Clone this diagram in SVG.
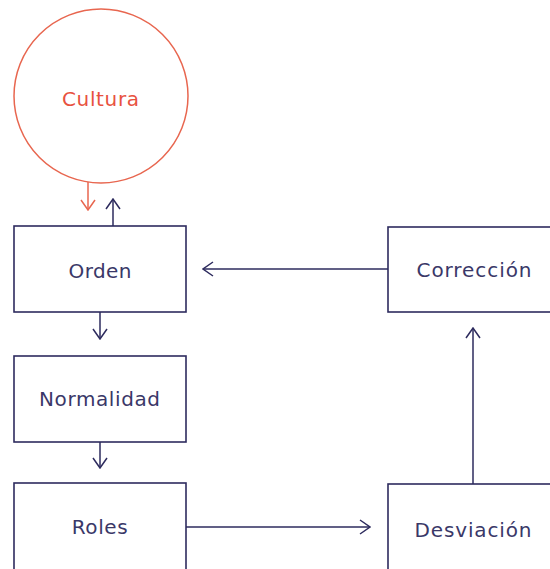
<svg xmlns="http://www.w3.org/2000/svg" width="550" height="569" viewBox="0 0 550 569">
<style>
.box{fill:#ffffff;stroke:#2d2b5e;stroke-width:1.6}
.lbl{font-family:"DejaVu Sans","Liberation Sans",sans-serif;font-size:20px;fill:#3a3868;text-anchor:middle}
.red{fill:#e8523f}
.con{fill:none;stroke:#2d2b5e;stroke-width:1.5}
.conr{fill:none;stroke:#e8664f;stroke-width:1.5}
</style>
<defs>
<marker id="ah" viewBox="-1 -1 12 16" refX="10" refY="7" markerWidth="12" markerHeight="16" markerUnits="userSpaceOnUse" orient="auto">
<path d="M0,0 L10,7 L0,14" fill="none" stroke="#2d2b5e" stroke-width="1.5"/>
</marker>
<marker id="ahr" viewBox="-1 -1 12 16" refX="10" refY="7" markerWidth="12" markerHeight="16" markerUnits="userSpaceOnUse" orient="auto">
<path d="M0,0 L10,7 L0,14" fill="none" stroke="#e8664f" stroke-width="1.5"/>
</marker>
</defs>
<rect width="550" height="569" fill="#ffffff"/>
<g id="cultura">
<circle cx="101" cy="96" r="87" fill="none" stroke="#e8664f" stroke-width="1.5"/>
<text class="lbl red" x="100.5" y="106" textLength="77" lengthAdjust="spacing">Cultura</text>
</g>
<g id="orden">
<rect class="box" x="14" y="226" width="172" height="86"/>
<text class="lbl" x="100" y="278" textLength="63" lengthAdjust="spacing">Orden</text>
</g>
<g id="normalidad">
<rect class="box" x="14" y="356" width="172" height="86"/>
<text class="lbl" x="99.5" y="406" textLength="121" lengthAdjust="spacing">Normalidad</text>
</g>
<g id="roles">
<rect class="box" x="14" y="483" width="172" height="90"/>
<text class="lbl" x="99.7" y="534" textLength="56" lengthAdjust="spacing">Roles</text>
</g>
<g id="correccion">
<rect class="box" x="388" y="227" width="172" height="85"/>
<text class="lbl" x="474" y="277" textLength="115" lengthAdjust="spacing">Corrección</text>
</g>
<g id="desviacion">
<rect class="box" x="388" y="484" width="172" height="89"/>
<text class="lbl" x="473" y="537" textLength="117" lengthAdjust="spacing">Desviación</text>
</g>
<g id="connectors">
<line class="conr" x1="88" y1="182" x2="88" y2="210" marker-end="url(#ahr)"/>
<line class="con" x1="113" y1="226" x2="113" y2="199" marker-end="url(#ah)"/>
<line class="con" x1="100" y1="312" x2="100" y2="339" marker-end="url(#ah)"/>
<line class="con" x1="100" y1="442" x2="100" y2="468" marker-end="url(#ah)"/>
<line class="con" x1="186" y1="527" x2="370" y2="527" marker-end="url(#ah)"/>
<line class="con" x1="473" y1="484" x2="473" y2="328" marker-end="url(#ah)"/>
<line class="con" x1="388" y1="269" x2="203" y2="269" marker-end="url(#ah)"/>
</g>
</svg>
